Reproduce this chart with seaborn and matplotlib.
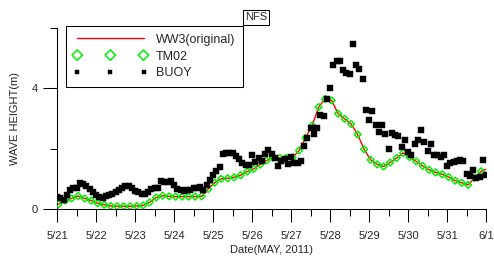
import numpy as np
import pandas as pd
import matplotlib
matplotlib.use("Agg")
import matplotlib.pyplot as plt
import seaborn as sns

# x-axis day labels (5/21 .. 6/1)
day_labels = ["5/21", "5/22", "5/23", "5/24", "5/25", "5/26",
              "5/27", "5/28", "5/29", "5/30", "5/31", "6/1"]

# TM02 model output, every 4 hours starting 5/21 01:00
tm02 = [0.16, 0.28, 0.35, 0.43, 0.35, 0.28,
        0.19, 0.14, 0.10, 0.09, 0.09, 0.09,
        0.10, 0.12, 0.22, 0.38, 0.44, 0.42,
        0.41, 0.41, 0.41, 0.41, 0.42, 0.66,
        0.87, 1.00, 1.02, 1.05, 1.12, 1.24,
        1.33, 1.47, 1.61, 1.70, 1.69, 1.70,
        1.71, 1.94, 2.36, 2.77, 3.38, 3.65,
        3.60, 3.16, 2.99, 2.82, 2.47, 1.98,
        1.63, 1.48, 1.41, 1.54, 1.69, 1.86,
        1.72, 1.58, 1.43, 1.30, 1.21, 1.15,
        1.06, 0.94, 0.87, 0.80, 1.03, 1.25]
tm02_hours = 1 + 4 * np.arange(len(tm02))

# WW3 (original) line: same run, continued to 6/1 00:00
ww3 = tm02 + [1.32]
ww3_hours = list(tm02_hours) + [264]

# buoy observations, every 2 hours from 5/21 00:00
buoy = [0.40, 0.35, 0.30, 0.47, 0.62, 0.68, 0.70, 0.86, 0.84, 0.76, 0.65, 0.56,
        0.47, 0.40, 0.36, 0.42, 0.47, 0.51, 0.57, 0.63, 0.70, 0.76, 0.76, 0.69,
        0.61, 0.55, 0.50, 0.50, 0.57, 0.66, 0.68, 0.70, 0.94, 0.91, 0.89, 0.93,
        0.78, 0.66, 0.62, 0.61, 0.62, 0.64, 0.68, 0.71, 0.74, 0.62, 0.80, 0.95,
        1.13, 1.25, 1.38, 1.81, 1.84, 1.86, 1.84, 1.76, 1.65, 1.53, 1.47, 1.45,
        1.80, 1.55, 1.69, 1.60, 1.83, 1.96, 1.83, 1.69, 1.41, 1.58, 1.66, 1.50,
        1.74, 1.54, 1.54, 1.58, 2.10, 2.35, 2.69, 2.47, 2.69, 3.13, 3.08, 3.63,
        4.02, 4.77, 4.89, 4.89, 4.61, 4.52, 4.47, 5.47, 4.77, 4.63, 4.32, 3.27,
        2.94, 3.24, 2.80, 2.54, 2.78, 2.47, 1.99, 2.51, 2.44, 2.42, 2.06, 2.28,
        1.88, 1.80, 2.17, 2.28, 2.61, 2.22, 1.91, 2.17, 1.80, 1.80, 1.74, 1.80,
        1.41, 1.53, 1.55, 1.60, 1.63, 1.58, 1.17, 1.10, 1.30, 1.04, 1.05, 1.63,
        1.13]
buoy_hours = 2 * np.arange(len(buoy))

df_ww3 = pd.DataFrame({"day": np.array(ww3_hours) / 24.0, "hs": ww3})
df_tm02 = pd.DataFrame({"day": tm02_hours / 24.0, "hs": tm02})
df_buoy = pd.DataFrame({"day": buoy_hours / 24.0, "hs": buoy})

sns.set_style("ticks")
plt.rcParams["font.family"] = ["Liberation Sans", "DejaVu Sans"]
plt.rcParams["font.size"] = 8

W, H = 494, 257
fig = plt.figure(figsize=(W / 100, H / 100), dpi=100)
ax = fig.add_axes([57 / W, 48 / H, 429 / W, 181 / H])

sns.lineplot(data=df_ww3, x="day", y="hs", color="red", lw=1.0,
             label="WW3(original)", ax=ax, zorder=2)
sns.scatterplot(data=df_tm02, x="day", y="hs", marker="D", s=12,
                fc="none", ec="#00ee00", linewidth=1.1, label="TM02",
                ax=ax, zorder=3)
sns.scatterplot(data=df_buoy, x="day", y="hs", marker="s", s=15,
                color="black", ec="black", linewidth=0.3, label="BUOY",
                ax=ax, zorder=4)

ax.set_xlim(0, 11)
ax.set_ylim(0, 6)
ax.set_xticks(range(len(day_labels)))
ax.set_xticklabels(day_labels)
ax.set_xticks(np.arange(0.5, 11, 1), minor=True)
ax.set_yticks([0, 4])
ax.set_yticks([2, 6], minor=True)

ax.tick_params(axis="x", which="major", length=9.5, width=0.75, pad=6,
               labelsize=8, color="black")
ax.tick_params(axis="x", which="minor", length=4.7, width=0.75, color="black")
ax.tick_params(axis="y", which="major", length=10, width=0.75, pad=4,
               labelsize=8, color="black")
ax.tick_params(axis="y", which="minor", length=5, width=0.75, color="black")

sns.despine(ax=ax)
for side in ["left", "bottom"]:
    ax.spines[side].set_linewidth(0.75)
    ax.spines[side].set_color("black")

ax.set_xlabel("Date(MAY, 2011)", fontsize=8, labelpad=3)
ax.set_ylabel("WAVE HEIGHT(m)", fontsize=8, labelpad=8)

handles, labels = ax.get_legend_handles_labels()
leg = ax.legend(handles, labels, loc="upper left",
                bbox_to_anchor=(66 / W, 1 - 26 / H),
                bbox_transform=fig.transFigure, borderaxespad=0,
                fontsize=9, numpoints=3, scatterpoints=3,
                scatteryoffsets=[0.5], handlelength=5.9,
                handletextpad=0.7, borderpad=0.6, labelspacing=0.4,
                fancybox=False, framealpha=1, edgecolor="black")
leg.get_frame().set_linewidth(0.75)
leg.legend_handles[1].set_sizes([28])
leg.legend_handles[2].set_sizes([9])

fig.text(256 / W, 1 - 17.5 / H, "NFS", ha="center", va="center", fontsize=8,
         bbox=dict(boxstyle="square,pad=0.2", fc="white", ec="black", lw=0.75))

fig.savefig("out.png", dpi=100)
